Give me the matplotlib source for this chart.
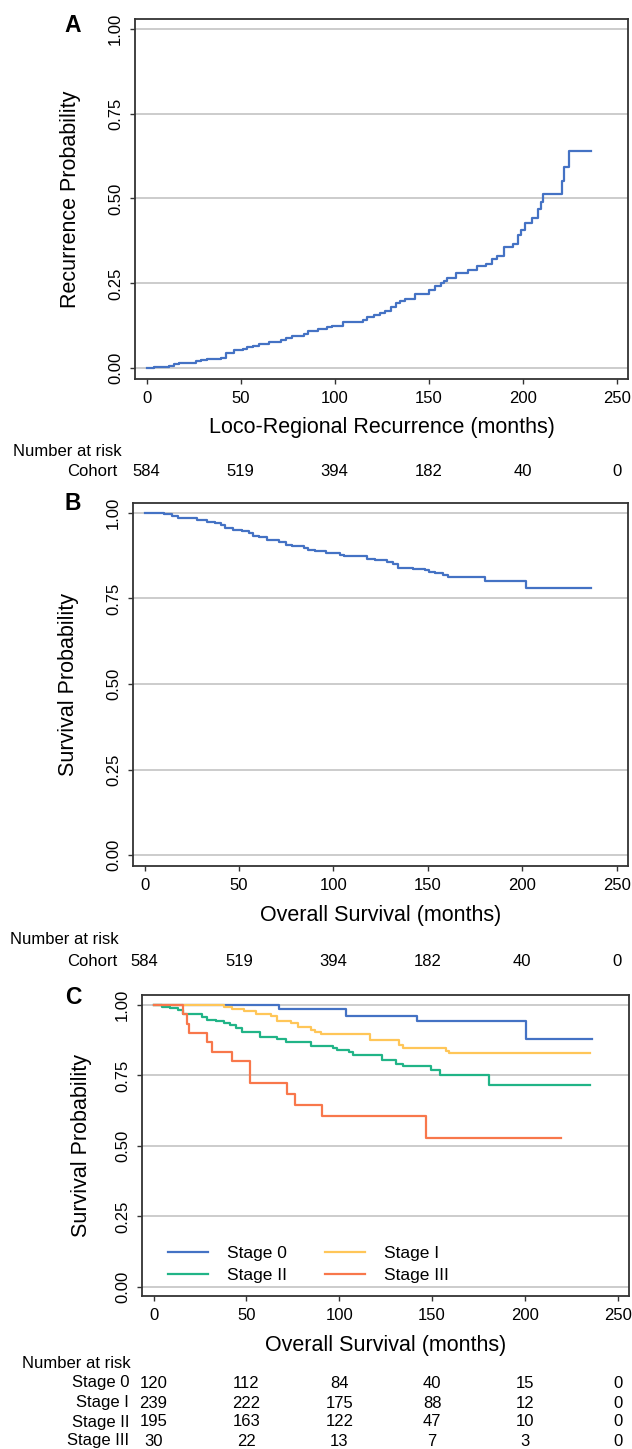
import matplotlib
matplotlib.use("Agg")
import matplotlib.pyplot as plt
from matplotlib.lines import Line2D
from matplotlib.transforms import blended_transform_factory

plt.rcParams['font.family'] = ['Liberation Sans', 'DejaVu Sans']

W, H = 632, 1449

# ---- data ----
months_ticks = [0, 50, 100, 150, 200, 250]
prob_ticks = [0.0, 0.25, 0.5, 0.75, 1.0]

# A: cumulative loco-regional recurrence
lrr_time = [0, 3.9, 12, 14.6, 17.4, 26, 29, 32, 39.4, 42, 46.5, 51, 53.4, 56.6, 60,
            65, 71.7, 74.3, 77.5, 83.5, 86, 91, 95.8, 98.6, 104.4, 115, 117.4, 121,
            124, 127, 130, 132.4, 134.8, 137.4, 142.8, 150, 153.5, 156.3, 158.3, 160,
            164.3, 170.7, 175.5, 180.4, 183.7, 186.5, 190.1, 195, 197.7, 199.2, 201.3,
            204.8, 208, 209.5, 210.6, 221, 222, 224.6, 236.4]
lrr_prob = [0, 0.003, 0.007, 0.011, 0.015, 0.02, 0.023, 0.027, 0.031, 0.044, 0.052,
            0.056, 0.062, 0.066, 0.07, 0.078, 0.083, 0.088, 0.095, 0.10, 0.108, 0.114,
            0.12, 0.125, 0.136, 0.142, 0.152, 0.158, 0.163, 0.169, 0.181, 0.193, 0.198,
            0.204, 0.218, 0.23, 0.242, 0.25, 0.256, 0.267, 0.279, 0.29, 0.301, 0.308,
            0.323, 0.331, 0.357, 0.367, 0.393, 0.408, 0.428, 0.443, 0.47, 0.49, 0.512,
            0.553, 0.592, 0.641, 0.641]

# B: overall survival, whole cohort
os_time = [0, 4.9, 10.3, 12.4, 14.6, 17.8, 27.9, 32.8, 37, 40.3, 42.5, 46.7, 51.7,
           55.3, 57.5, 60.7, 65, 71.4, 74.6, 77.8, 84.3, 86.4, 90.3, 96, 103.6, 105.7,
           117.5, 121.8, 128.2, 131.4, 134.2, 142.2, 148.6, 150.7, 154, 158.2, 160.4,
           180, 201.8, 236.5]
os_prob = [1.0, 0.999, 0.998, 0.996, 0.992, 0.984, 0.979, 0.974, 0.971, 0.966, 0.956,
           0.951, 0.946, 0.941, 0.934, 0.93, 0.922, 0.914, 0.907, 0.904, 0.897, 0.893,
           0.888, 0.884, 0.878, 0.874, 0.866, 0.861, 0.857, 0.85, 0.84, 0.836, 0.832,
           0.828, 0.824, 0.818, 0.812, 0.802, 0.78, 0.78]

# C: overall survival by stage
s0_time = [0, 67.8, 103.7, 141.7, 200.7, 236.3]
s0_prob = [1.0, 0.986, 0.962, 0.942, 0.88, 0.88]
s1_time = [0, 38, 42.4, 48.9, 55.4, 63, 66.3, 73.9, 77.8, 84.8, 87, 90.2, 116.3,
           132.2, 134.3, 157.6, 159.1, 235.2]
s1_prob = [1.0, 0.993, 0.986, 0.977, 0.969, 0.96, 0.942, 0.936, 0.921, 0.912, 0.903,
           0.895, 0.874, 0.859, 0.848, 0.838, 0.828, 0.828]
s2_time = [0, 4.3, 8.7, 13, 15.7, 18.5, 26, 28.7, 33.7, 38, 41.3, 44.6, 47.4, 57.6,
           66.3, 71.3, 84.8, 96.7, 99, 105.4, 107.6, 122.8, 130.4, 134.3, 149.6, 154.3,
           180.4, 235.2]
s2_prob = [1.0, 0.993, 0.989, 0.981, 0.969, 0.966, 0.957, 0.948, 0.942, 0.936, 0.927,
           0.918, 0.903, 0.886, 0.879, 0.867, 0.853, 0.847, 0.841, 0.834, 0.823, 0.803,
           0.792, 0.782, 0.768, 0.75, 0.717, 0.717]
s3_time = [0, 15.7, 17.8, 19.1, 28.9, 31.5, 42.4, 51.7, 71.7, 76.1, 90.9, 146.7, 219.6]
s3_prob = [1.0, 0.967, 0.933, 0.9, 0.867, 0.833, 0.8, 0.724, 0.685, 0.645, 0.605,
           0.527, 0.527]

stage_names = ['Stage 0', 'Stage I', 'Stage II', 'Stage III']
cohort_risk = [584, 519, 394, 182, 40, 0]
stage_risk = [[120, 112, 84, 40, 15, 0],
              [239, 222, 175, 88, 12, 0],
              [195, 163, 122, 47, 10, 0],
              [30, 22, 13, 7, 3, 0]]

BLUE = '#4472C4'
YELLOW = '#FFC658'
GREEN = '#21B487'
ORANGE = '#F8774B'
GRID = '#C8C8C8'
SPINE = '#333333'
LW = 1.6
RISK_FS = 12


def px_axes(fig, left, right, top, bottom):
    return fig.add_axes([left / W, 1 - bottom / H, (right - left) / W, (bottom - top) / H])


def style_axes(ax, ylim, ylabel, xlabel, ylab_x):
    ax.set_xlim(-6.2, 256)
    ax.set_ylim(*ylim)
    ax.set_xticks(months_ticks)
    ax.set_yticks(prob_ticks)
    ax.set_yticklabels(['%.2f' % v for v in prob_ticks], rotation=90, va='center')
    ax.tick_params(axis='both', direction='out', length=3.5, width=1.0, color=SPINE,
                   labelsize=12, pad=5)
    ax.tick_params(axis='x', pad=5)
    ax.grid(axis='y', color=GRID, linewidth=1.3)
    ax.set_axisbelow(True)
    for sp in ax.spines.values():
        sp.set_color(SPINE)
        sp.set_linewidth(1.3)
    ax.set_ylabel(ylabel, fontsize=15.5)
    ax.yaxis.set_label_coords(ylab_x, 0.5)
    ax.set_xlabel(xlabel, fontsize=15.5)
    ax.xaxis.set_label_coords(0.5, -49 / (ax.get_position().height * H))
    ax.xaxis.label.set_va('center')


def risk_table(fig, ax, title_x, title_y, rows, labels, label_right, row_ys):
    fig.text(title_x / W, 1 - title_y / H, 'Number at risk', fontsize=RISK_FS,
             ha='left', va='center')
    tr = blended_transform_factory(ax.transData, fig.transFigure)
    for lab, vals, y in zip(labels, rows, row_ys):
        fig.text(label_right / W, 1 - y / H, lab, fontsize=RISK_FS, ha='right', va='center')
        for t, v in zip(months_ticks, vals):
            ax.text(t, 1 - y / H, str(v), transform=tr, fontsize=RISK_FS,
                    ha='center', va='center', clip_on=False)


fig = plt.figure(figsize=(W / 100, H / 100), dpi=100)

# ---- Panel A ----
axA = px_axes(fig, 135, 628, 19, 379)
axA.step(lrr_time, lrr_prob, where='post', color=BLUE, lw=LW)
style_axes(axA, (-0.032, 1.029), 'Recurrence Probability',
           'Loco-Regional Recurrence (months)', -0.110)
fig.text(73 / W, 1 - 26 / H, 'A', fontsize=16.5, fontweight='bold', ha='center', va='center')
risk_table(fig, axA, 13, 452, [cohort_risk], ['Cohort'], 117, [472])

# ---- Panel B ----
axB = px_axes(fig, 133, 628, 503, 866)
axB.step(os_time, os_prob, where='post', color=BLUE, lw=LW)
style_axes(axB, (-0.032, 1.029), 'Survival Probability',
           'Overall Survival (months)', -0.109)
fig.text(73 / W, 1 - 504 / H, 'B', fontsize=16.5, fontweight='bold', ha='center', va='center')
risk_table(fig, axB, 10, 939, [cohort_risk], ['Cohort'], 117, [961])

# ---- Panel C ----
axC = px_axes(fig, 142, 629, 995, 1296)
axC.step(s0_time, s0_prob, where='post', color=BLUE, lw=LW)
axC.step(s1_time, s1_prob, where='post', color=YELLOW, lw=LW)
axC.step(s2_time, s2_prob, where='post', color=GREEN, lw=LW)
axC.step(s3_time, s3_prob, where='post', color=ORANGE, lw=LW)
style_axes(axC, (-0.032, 1.035), 'Survival Probability',
           'Overall Survival (months)', -0.103)
fig.text(73 / W, 1 - 997 / H, 'C', fontsize=16.5, fontweight='bold', ha='center', va='center')

handles = [Line2D([], [], color=BLUE, lw=LW), Line2D([], [], color=GREEN, lw=LW),
           Line2D([], [], color=YELLOW, lw=LW), Line2D([], [], color=ORANGE, lw=LW)]
axC.legend(handles, ['Stage 0', 'Stage II', 'Stage I', 'Stage III'], ncol=2,
           loc='upper left', bbox_to_anchor=(0.053, 0.168), frameon=False,
           fontsize=12.5, handlelength=2.3, handletextpad=1.1, columnspacing=2.2,
           labelspacing=0.42, borderpad=0, borderaxespad=0)

risk_table(fig, axC, 22, 1364, stage_risk, stage_names, 129,
           [1383, 1403, 1422, 1441])

fig.savefig('out.png', dpi=100)
